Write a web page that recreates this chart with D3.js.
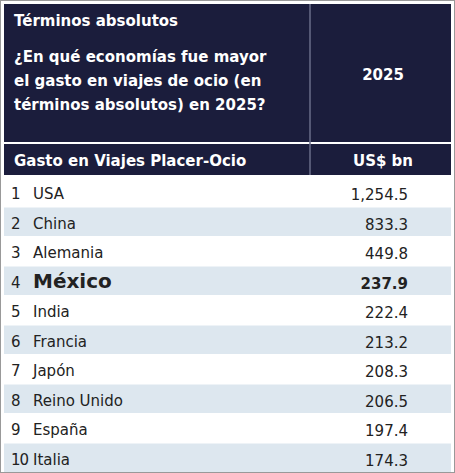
<!DOCTYPE html>
<html><head><meta charset="utf-8">
<script src="https://cdn.jsdelivr.net/npm/d3@7.9.0/dist/d3.min.js"></script>
<style>body{margin:0;background:#fff;font-family:"DejaVu Sans","Noto Sans",sans-serif}</style>
</head><body><svg id="c" width="455" height="473"></svg>
<script>
const ranks = [1,2,3,4,5,6,7,8,9,10];
const countries = ['USA','China','Alemania','México','India','Francia','Japón','Reino Unido','España','Italia'];
const values = [1254.5,833.3,449.8,237.9,222.4,213.2,208.3,206.5,197.4,174.3];
const titleLines = ['¿En qué economías fue mayor','el gasto en viajes de ocio (en','términos absolutos) en 2025?'];
const highlight = 'México';

const svg = d3.select('#c');
const navy = '#1b1d3c';
svg.append('rect').attr('x',0.5).attr('y',0.5).attr('width',454).attr('height',472).attr('fill','#fff').attr('stroke','#999');
svg.append('rect').attr('x',4).attr('y',4).attr('width',447).attr('height',138).attr('fill',navy);
svg.append('rect').attr('x',4).attr('y',144).attr('width',447).attr('height',31).attr('fill',navy);
svg.append('line').attr('x1',310).attr('x2',310).attr('y1',4).attr('y2',175).attr('stroke','#6a6d88').attr('stroke-width',1.5);

const hdr = svg.append('g').attr('fill','#fff').attr('font-weight','bold').attr('font-size',15);
hdr.append('text').attr('x',14).attr('y',26).text('Términos absolutos');
hdr.selectAll('.q').data(titleLines).join('text').attr('x',14).attr('y',(d,i)=>62+i*24).text(d=>d);
hdr.append('text').attr('x',383).attr('y',80).attr('text-anchor','middle').text('2025');
hdr.append('text').attr('x',14).attr('y',166).text('Gasto en Viajes Placer-Ocio');
hdr.append('text').attr('x',383).attr('y',166).attr('text-anchor','middle').text('US$ bn');

const y = d3.scaleBand().domain(ranks).range([178,473]);
const fmt = d3.format(',.1f');
const rows = svg.selectAll('.row').data(ranks).join('g').attr('transform',d=>`translate(0,${y(d)})`);
rows.append('rect').attr('x',4).attr('width',447).attr('height',y.bandwidth()-1)
  .attr('fill',(d,i)=>i%2?'#dde7ef':'#fff');
rows.append('text').attr('x',11).attr('y',21).attr('font-size',15).attr('fill','#222')
  .attr('letter-spacing',(d)=>d===10?-1:0).text(d=>d);
rows.append('text').attr('x',33).attr('y',21).attr('fill','#222')
  .attr('font-size',(d,i)=>countries[i]===highlight?20:15)
  .attr('font-weight',(d,i)=>countries[i]===highlight?'bold':'normal')
  .text((d,i)=>countries[i]);
rows.append('text').attr('x',408).attr('y',22).attr('text-anchor','end').attr('fill','#222').attr('font-size',15)
  .attr('font-weight',(d,i)=>countries[i]===highlight?'bold':'normal')
  .text((d,i)=>fmt(values[i]));
</script></body></html>
